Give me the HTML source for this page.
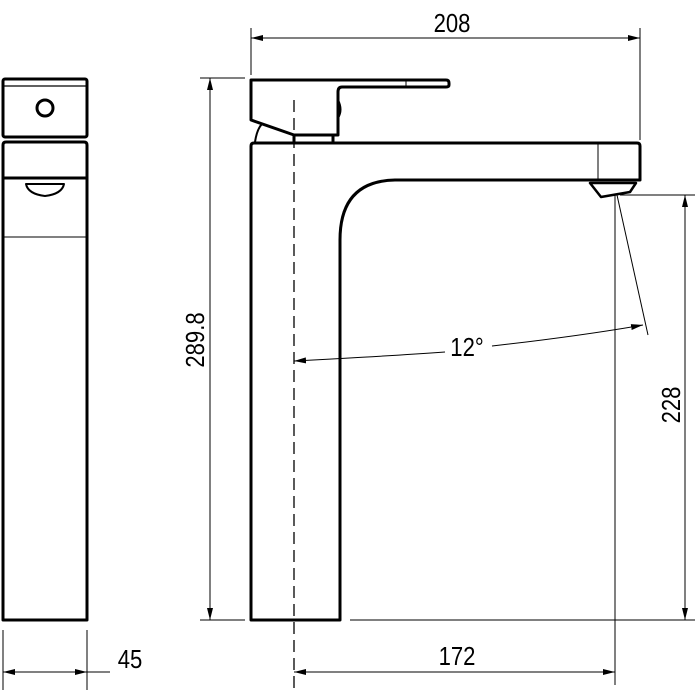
<!DOCTYPE html>
<html><head><style>body{margin:0;background:#fff}svg{display:block}</style></head><body>
<svg width="700" height="700" viewBox="0 0 700 700" xmlns="http://www.w3.org/2000/svg" font-family="Liberation Sans, sans-serif">
<defs><marker id="a" markerWidth="12" markerHeight="6" refX="12" refY="3" orient="auto-start-reverse" markerUnits="userSpaceOnUse"><path d="M0,0 L12,3 L0,6 z" fill="#000"/></marker></defs>
<g fill="none" stroke="#000" stroke-width="3" stroke-linejoin="round">
<rect x="3" y="79" width="84" height="58" rx="2"/>
<line x1="4" y1="86" x2="86" y2="86" stroke-width="1.2"/>
<circle cx="45" cy="108" r="8"/>
<path d="M3,620 V145 Q3,142 6,142 H84 Q87,142 87,145 V620 Z"/>
<line x1="3" y1="178" x2="87" y2="178"/>
<path d="M26,184 H64 Q62,194 45,196 Q28,194 26,184 Z" stroke-width="2"/>
<line x1="3" y1="237" x2="87" y2="237" stroke-width="1"/>
<path d="M251,620 V146 Q251,143 254,143 H637 Q640,143 640,146 V180 H598 H395 Q340,181 340,240 V620 Z"/>
<path d="M251,80 H446 Q449,80 449,83 V85 Q449,87 446,87 H342 Q338,87 338,92 V135 H294 L251,120 Z"/>
<line x1="294" y1="135" x2="294" y2="143"/><line x1="333" y1="135" x2="333" y2="143"/>
<path d="M255,142 Q257,129 262,124" stroke-width="2"/>
<path d="M338,100 Q343,110 338,118" stroke-width="2"/>
<path d="M590,183 H636 L630,192 L601,197 Z" stroke-width="2.5"/>
</g>
<g stroke="#000" stroke-width="1" fill="none">
<line x1="598" y1="144" x2="598" y2="180"/>
<line x1="406" y1="80" x2="406" y2="87"/>
<line x1="294" y1="100" x2="294" y2="690" stroke-dasharray="12,6" stroke-width="1.3"/>
<line x1="251" y1="28" x2="251" y2="75"/><line x1="640" y1="28" x2="640" y2="140"/>
<line x1="251" y1="38" x2="640" y2="38" marker-start="url(#a)" marker-end="url(#a)"/>
<line x1="200" y1="78" x2="245" y2="78"/><line x1="200" y1="620" x2="245" y2="620"/>
<line x1="210" y1="78" x2="210" y2="620" marker-start="url(#a)" marker-end="url(#a)"/>
<line x1="620" y1="195" x2="695" y2="195"/><line x1="350" y1="620" x2="695" y2="620"/>
<line x1="685" y1="195" x2="685" y2="620" marker-start="url(#a)" marker-end="url(#a)"/>
<line x1="615" y1="195" x2="615" y2="685"/>
<line x1="294" y1="672" x2="615" y2="672" marker-start="url(#a)" marker-end="url(#a)"/>
<line x1="3" y1="630" x2="3" y2="690"/><line x1="87" y1="630" x2="87" y2="690"/>
<line x1="3" y1="672" x2="87" y2="672" marker-start="url(#a)" marker-end="url(#a)"/>
<line x1="87" y1="672" x2="110" y2="672"/>
<line x1="617" y1="195" x2="648" y2="335"/>
<path d="M294,361 Q390,356 445,352" marker-start="url(#a)"/>
<path d="M492,346 Q580,336 643,325" marker-end="url(#a)"/>
</g>
<g font-size="26" fill="#000" text-anchor="middle">
<text transform="translate(452,32) scale(0.85,1)">208</text>
<text transform="translate(457,665) scale(0.85,1)">172</text>
<text transform="translate(130,668) scale(0.85,1)">45</text>
<text transform="translate(467,356) scale(0.85,1)">12°</text>
<text transform="translate(204,340) rotate(-90) scale(0.85,1)">289.8</text>
<text transform="translate(680,405) rotate(-90) scale(0.85,1)">228</text>
</g>
</svg>
</body></html>
